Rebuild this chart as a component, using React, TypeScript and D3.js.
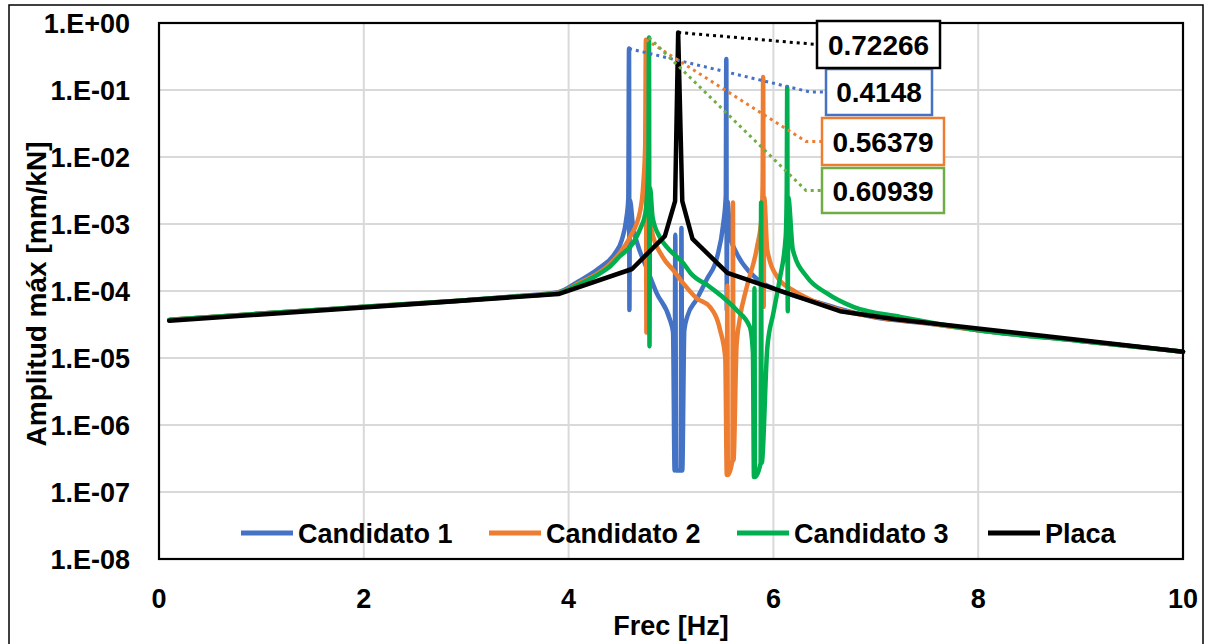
import React from "react";
import * as d3 from "d3";

// [frecuencia Hz, amplitud mm/kN]
const candidato1: [number, number][] = [
  [0.1, 3.7e-5], [1, 4.6e-5], [2, 5.8e-5], [3, 7.3e-5], [3.5, 8.4e-5], [3.9, 9.6e-5],
  [4.1, 1.4e-4], [4.3, 2.2e-4], [4.45, 3.6e-4], [4.52, 5.8e-4], [4.56, 1.1e-3], [4.583, 2.4e-3],
  [4.59, 0.4148], [4.594, 5.2e-5], [4.598, 2.3e-3], [4.63, 9e-4], [4.67, 5.2e-4], [4.77, 2.06e-4],
  [4.86, 9.3e-5], [4.99, 3.7e-5], [5.02, 2.4e-5], [5.035, 2.1e-7], [5.042, 6.9e-4], [5.05, 2.1e-7],
  [5.095, 2.1e-7], [5.102, 8.7e-4], [5.11, 2.1e-7], [5.13, 2.6e-5], [5.16, 4.2e-5], [5.25, 7.5e-5],
  [5.35, 1.5e-4], [5.45, 3.2e-4], [5.51, 1.0e-3], [5.535, 2.6e-3], [5.54, 0.29], [5.545, 5.2e-5],
  [5.55, 2.2e-3], [5.58, 6.4e-4], [5.64, 3.7e-4], [5.77, 1.9e-4], [5.9, 1.3e-4], [6.0, 1.1e-4],
  [6.2, 8.5e-5], [6.46, 6.6e-5], [6.65, 5.4e-5], [7.0, 4.0e-5], [7.5, 3.3e-5], [8, 2.6e-5],
  [9, 1.8e-5], [10, 1.24e-5],
];

const candidato2: [number, number][] = [
  [0.1, 3.7e-5], [1, 4.6e-5], [2, 5.8e-5], [3, 7.3e-5], [3.5, 8.3e-5], [3.9, 9.4e-5],
  [4.1, 1.3e-4], [4.3, 1.9e-4], [4.4, 2.5e-4], [4.5, 3.7e-4], [4.6, 6.4e-4], [4.7, 1.6e-3],
  [4.73, 4e-3], [4.748, 1.5e-2], [4.755, 0.56379], [4.76, 2.4e-5], [4.765, 3.5e-3], [4.78, 1.6e-3],
  [4.81, 8.1e-4], [4.92, 3.2e-4], [5.02, 2.06e-4], [5.12, 1.3e-4], [5.25, 7.8e-5], [5.38, 5.8e-5],
  [5.48, 2.6e-5], [5.53, 1e-5], [5.545, 1.8e-7], [5.55, 1.2e-4], [5.555, 1.8e-7], [5.6, 3e-7],
  [5.605, 2.1e-3], [5.61, 3e-7], [5.64, 1.5e-5], [5.67, 3.7e-5], [5.74, 1.15e-4], [5.84, 4.5e-4],
  [5.885, 1.3e-3], [5.895, 4e-3], [5.9, 0.156], [5.905, 5.8e-5], [5.91, 2.5e-3], [5.94, 4.1e-4],
  [6.04, 1.6e-4], [6.19, 1.03e-4], [6.4, 7e-5], [6.65, 5.2e-5], [7, 4.1e-5], [7.5, 3.3e-5],
  [8, 2.6e-5], [9, 1.8e-5], [10, 1.24e-5],
];

const candidato3: [number, number][] = [
  [0.1, 3.7e-5], [1, 4.6e-5], [2, 5.8e-5], [3, 7.3e-5], [3.5, 8.3e-5], [3.9, 9.3e-5],
  [4.1, 1.25e-4], [4.3, 1.8e-4], [4.4, 2.3e-4], [4.5, 3.3e-4], [4.63, 5.2e-4], [4.7, 8.5e-4],
  [4.75, 1.46e-3], [4.77, 3.5e-3], [4.78, 1.2e-2], [4.785, 0.60939], [4.79, 1.5e-5], [4.795, 3.5e-3],
  [4.82, 1.27e-3], [4.89, 6.4e-4], [4.96, 4.5e-4], [5.12, 2.6e-4], [5.19, 1.86e-4], [5.38, 1.15e-4],
  [5.64, 5.2e-5], [5.77, 2.9e-5], [5.8, 1.2e-5], [5.81, 1.67e-7], [5.815, 1.1e-4], [5.82, 1.67e-7],
  [5.875, 2.7e-7], [5.88, 2.1e-3], [5.885, 2.7e-7], [5.94, 1.4e-5], [6.0, 4.7e-5], [6.06, 1.46e-4],
  [6.12, 6.4e-4], [6.13, 3e-3], [6.135, 0.111], [6.14, 5e-5], [6.145, 2.5e-3], [6.19, 4.1e-4],
  [6.33, 1.6e-4], [6.52, 9.3e-5], [6.78, 5.8e-5], [7.24, 4.1e-5], [8, 2.6e-5], [9, 1.8e-5],
  [10, 1.24e-5],
];

const placa: [number, number][] = [
  [0.1, 3.6e-5], [3.9, 9.0e-5], [4.62, 2.13e-4], [4.94, 6.6e-4], [5.04, 2.2e-3], [5.07, 0.72266],
  [5.11, 2.2e-3], [5.21, 6.0e-4], [5.55, 1.86e-4], [6.65, 5.0e-5], [7.19, 3.8e-5], [10, 1.24e-5],
];

const seriesNames = ["Candidato 1", "Candidato 2", "Candidato 3", "Placa"];
const seriesColors = ["#4472C4", "#ED7D31", "#00B050", "#000000"];
const labelBorders = ["#4472C4", "#ED7D31", "#70AD47", "#000000"];
// máximo etiquetado de cada serie
const peakLabels = ["0.4148", "0.56379", "0.60939", "0.72266"];

const xTicks = [0, 2, 4, 6, 8, 10];
const yTickValues = [1, 1e-1, 1e-2, 1e-3, 1e-4, 1e-5, 1e-6, 1e-7, 1e-8];
const yTickLabels = ["1.E+00", "1.E-01", "1.E-02", "1.E-03", "1.E-04", "1.E-05", "1.E-06", "1.E-07", "1.E-08"];

const W = 1208;
const H = 644;
const plot = { left: 159, right: 1183, top: 23, bottom: 559 };
const FONT = "'Liberation Sans', Arial, sans-serif";

// cajas de las etiquetas de datos (x, y, ancho, alto) y codo del conector
const labelBoxes = [
  { x: 826, y: 69, w: 106, h: 46, elbow: 810 },
  { x: 822, y: 118, w: 122, h: 47, elbow: 806 },
  { x: 822, y: 168, w: 122, h: 45, elbow: 806 },
  { x: 817, y: 21, w: 123, h: 47, elbow: null as number | null },
];
const legendX = [241, 489, 737, 988];
const legendY = 533;

export default function App() {
  const data = [candidato1, candidato2, candidato3, placa];

  const xScale = d3.scaleLinear().domain([0, 10]).range([plot.left, plot.right]);
  const yScale = d3.scaleLog().domain([1e-8, 1]).range([plot.bottom, plot.top]);

  // candidatos con línea suavizada, placa con segmentos rectos
  const smooth = d3
    .line<[number, number]>()
    .x((d) => xScale(d[0]))
    .y((d) => yScale(d[1]))
    .curve(d3.curveMonotoneX);
  const straight = d3
    .line<[number, number]>()
    .x((d) => xScale(d[0]))
    .y((d) => yScale(d[1]));

  const peaks = data.map((s) => s.reduce((a, b) => (b[1] > a[1] ? b : a)));

  return (
    <svg
      width={W}
      height={H}
      style={{ position: "absolute", left: 0, top: 0, background: "#fff" }}
      fontFamily={FONT}
      fontWeight="bold"
    >
      <rect x={9} y={5} width={1194} height={660} fill="#fff" stroke="#000" strokeWidth={1.5} />

      {/* rejilla */}
      {yTickValues.map((v) => (
        <line key={"gy" + v} x1={plot.left} x2={plot.right} y1={yScale(v)} y2={yScale(v)} stroke="#d9d9d9" strokeWidth={2} />
      ))}
      {xTicks.map((t) => (
        <line key={"gx" + t} x1={xScale(t)} x2={xScale(t)} y1={plot.top} y2={plot.bottom} stroke="#d9d9d9" strokeWidth={2} />
      ))}

      {/* series */}
      {data.map((s, i) => (
        <path
          key={seriesNames[i]}
          d={(i === 3 ? straight(s) : smooth(s)) || ""}
          fill="none"
          stroke={seriesColors[i]}
          strokeWidth={4.5}
          strokeLinejoin="round"
          strokeLinecap="round"
        />
      ))}

      <rect x={plot.left} y={plot.top} width={plot.right - plot.left} height={plot.bottom - plot.top} fill="none" stroke="#000" strokeWidth={2.2} />

      {/* conectores y etiquetas de datos */}
      {peaks.map((p, i) => {
        const b = labelBoxes[i];
        const px = xScale(p[0]);
        const py = yScale(p[1]);
        const cy = b.y + b.h / 2;
        const pts = b.elbow === null ? `${px},${py} ${b.x},${cy}` : `${px},${py} ${b.elbow},${cy} ${b.x},${cy}`;
        return (
          <polyline
            key={"lead" + i}
            points={pts}
            fill="none"
            stroke={labelBorders[i]}
            strokeWidth={3}
            strokeDasharray="3 4"
          />
        );
      })}
      {labelBoxes.map((b, i) => (
        <g key={"lab" + i}>
          <rect x={b.x} y={b.y} width={b.w} height={b.h} fill="#fff" stroke={labelBorders[i]} strokeWidth={2.5} />
          <text x={b.x + b.w / 2} y={b.y + b.h / 2} dy="0.36em" textAnchor="middle" fontSize={28} fill="#000">
            {peakLabels[i]}
          </text>
        </g>
      ))}

      {/* ejes */}
      {yTickValues.map((v, i) => (
        <text key={"ty" + v} x={130} y={yScale(v)} dy="0.36em" textAnchor="end" fontSize={27} fill="#000">
          {yTickLabels[i]}
        </text>
      ))}
      {xTicks.map((t) => (
        <text key={"tx" + t} x={xScale(t)} y={608} textAnchor="middle" fontSize={27} fill="#000">
          {t}
        </text>
      ))}
      <text x={(plot.left + plot.right) / 2} y={635} textAnchor="middle" fontSize={27} fill="#000">
        Frec [Hz]
      </text>
      <text transform="translate(46,294) rotate(-90)" textAnchor="middle" fontSize={28} fill="#000">
        Amplitud máx [mm/kN]
      </text>

      {/* leyenda */}
      {seriesNames.map((n, i) => (
        <g key={"leg" + n}>
          <line x1={legendX[i]} x2={legendX[i] + 52} y1={legendY} y2={legendY} stroke={seriesColors[i]} strokeWidth={5} />
          <text x={legendX[i] + 57} y={legendY} dy="0.36em" fontSize={27} fill="#000">
            {n}
          </text>
        </g>
      ))}
    </svg>
  );
}
